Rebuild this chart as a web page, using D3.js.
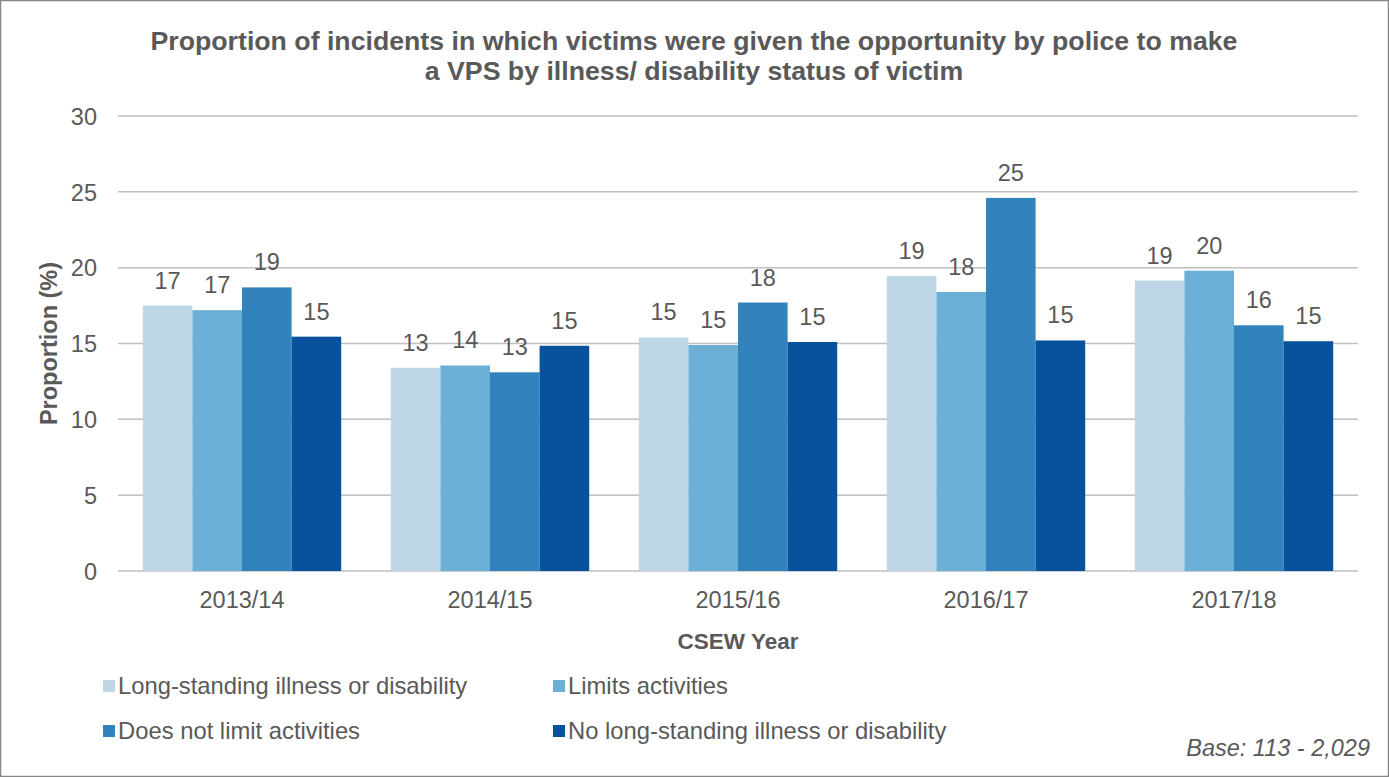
<!DOCTYPE html>
<html><head><meta charset="utf-8">
<script src="https://cdn.jsdelivr.net/npm/d3@7"></script>
<style>body{margin:0;background:#fff}svg{display:block;font-family:"Liberation Sans",Arial,sans-serif}</style>
</head><body><svg id="c" width="1389" height="777"></svg>
<script>
const years = ["2013/14","2014/15","2015/16","2016/17","2017/18"];
const seriesNames = ["Long-standing illness or disability","Limits activities","Does not limit activities","No long-standing illness or disability"];
const longStanding = [17.5, 13.4, 15.4, 19.45, 19.15];
const limits = [17.2, 13.55, 14.9, 18.4, 19.8];
const notLimit = [18.7, 13.1, 17.7, 24.6, 16.2];
const noIllness = [15.45, 14.85, 15.1, 15.2, 15.15];
const labels1 = [17, 13, 15, 19, 19];
const labels2 = [17, 14, 15, 18, 20];
const labels3 = [19, 13, 18, 25, 16];
const labels4 = [15, 15, 15, 15, 15];
const yTicks = [0,5,10,15,20,25,30];
const colors = ["#BDD7E7","#6BAED6","#3182BD","#08519C"];
const titleLines = ["Proportion of incidents in which victims were given the opportunity by police to make","a VPS by illness/ disability status of victim"];

const values = [longStanding, limits, notLimit, noIllness];
const labs = [labels1, labels2, labels3, labels4];
const svg = d3.select("#c");
const txt = "#595959";
const FS = 23.5;
svg.append("rect").attr("x",0.5).attr("y",0.5).attr("width",1388).attr("height",776).attr("fill","#fff").attr("stroke","#868686").attr("stroke-width",1.5);

const L=118,R=1358,T=116,B=571;
const x0 = d3.scaleBand().domain(years).range([L,R]).paddingInner(0.2).paddingOuter(0.1);
const x1 = d3.scaleBand().domain(d3.range(4)).range([0,x0.bandwidth()]);
const y = d3.scaleLinear().domain([0,30]).range([B,T]);

// gridlines
svg.append("g").selectAll("line").data(yTicks).join("line")
  .attr("x1",L).attr("x2",R).attr("y1",d=>y(d)).attr("y2",d=>y(d))
  .attr("stroke","#C0C0C0").attr("stroke-width",1.5);

// y axis labels
const yAxis = d3.axisLeft(y).tickValues(yTicks).tickSize(0).tickPadding(0);
const ya = svg.append("g").attr("transform",`translate(${L-21},0)`).call(yAxis);
ya.select(".domain").remove();
ya.selectAll("text").attr("fill",txt).attr("font-size",FS).attr("font-family","Liberation Sans, Arial, sans-serif").attr("dy","0.35em");

// x axis labels
const xAxis = d3.axisBottom(x0).tickSize(0).tickPadding(0);
const xa = svg.append("g").attr("transform",`translate(0,${B})`).call(xAxis);
xa.select(".domain").remove();
xa.selectAll("text").attr("fill",txt).attr("font-size",FS).attr("font-family","Liberation Sans, Arial, sans-serif").attr("y",36.5).attr("dy",null);

// bars
values.forEach((arr,si)=>{
  const g = svg.append("g");
  g.selectAll("rect").data(arr).join("rect")
    .attr("x",(d,i)=>x0(years[i])+x1(si)).attr("width",x1.bandwidth())
    .attr("y",d=>y(d)).attr("height",d=>B-y(d)).attr("fill",colors[si]);
  g.selectAll("text").data(arr).join("text")
    .attr("x",(d,i)=>x0(years[i])+x1(si)+x1.bandwidth()/2)
    .attr("y",d=>y(d)-17).attr("text-anchor","middle")
    .attr("fill",txt).attr("font-size",FS).text((d,i)=>labs[si][i]);
});

// title
svg.append("g").selectAll("text").data(titleLines).join("text")
  .attr("x",694).attr("y",(d,i)=>50+i*30).attr("text-anchor","middle")
  .attr("font-weight","bold").attr("font-size",26.7).attr("fill",txt).text(d=>d);

// axis titles
svg.append("text").attr("transform",`translate(57,${(T+B)/2}) rotate(-90)`).attr("text-anchor","middle")
  .attr("font-weight","bold").attr("font-size",FS).attr("fill",txt).text("Proportion (%)");
svg.append("text").attr("x",(L+R)/2).attr("y",649).attr("text-anchor","middle")
  .attr("font-weight","bold").attr("font-size",22.5).attr("fill",txt).text("CSEW Year");

// legend
const legPos = [[103,694],[553,694],[103,739],[553,739]];
const lg = svg.append("g").selectAll("g").data(seriesNames).join("g")
  .attr("transform",(d,i)=>`translate(${legPos[i][0]},${legPos[i][1]})`);
lg.append("rect").attr("x",0).attr("y",-14).attr("width",12).attr("height",12).attr("fill",(d,i)=>colors[i]);
lg.append("text").attr("x",15).attr("y",0).attr("font-size",23.8).attr("fill",txt).text(d=>d);

svg.append("text").attr("x",1370).attr("y",756).attr("text-anchor","end").attr("font-style","italic")
  .attr("font-size",FS).attr("fill",txt).text("Base: 113 - 2,029");
</script></body></html>
